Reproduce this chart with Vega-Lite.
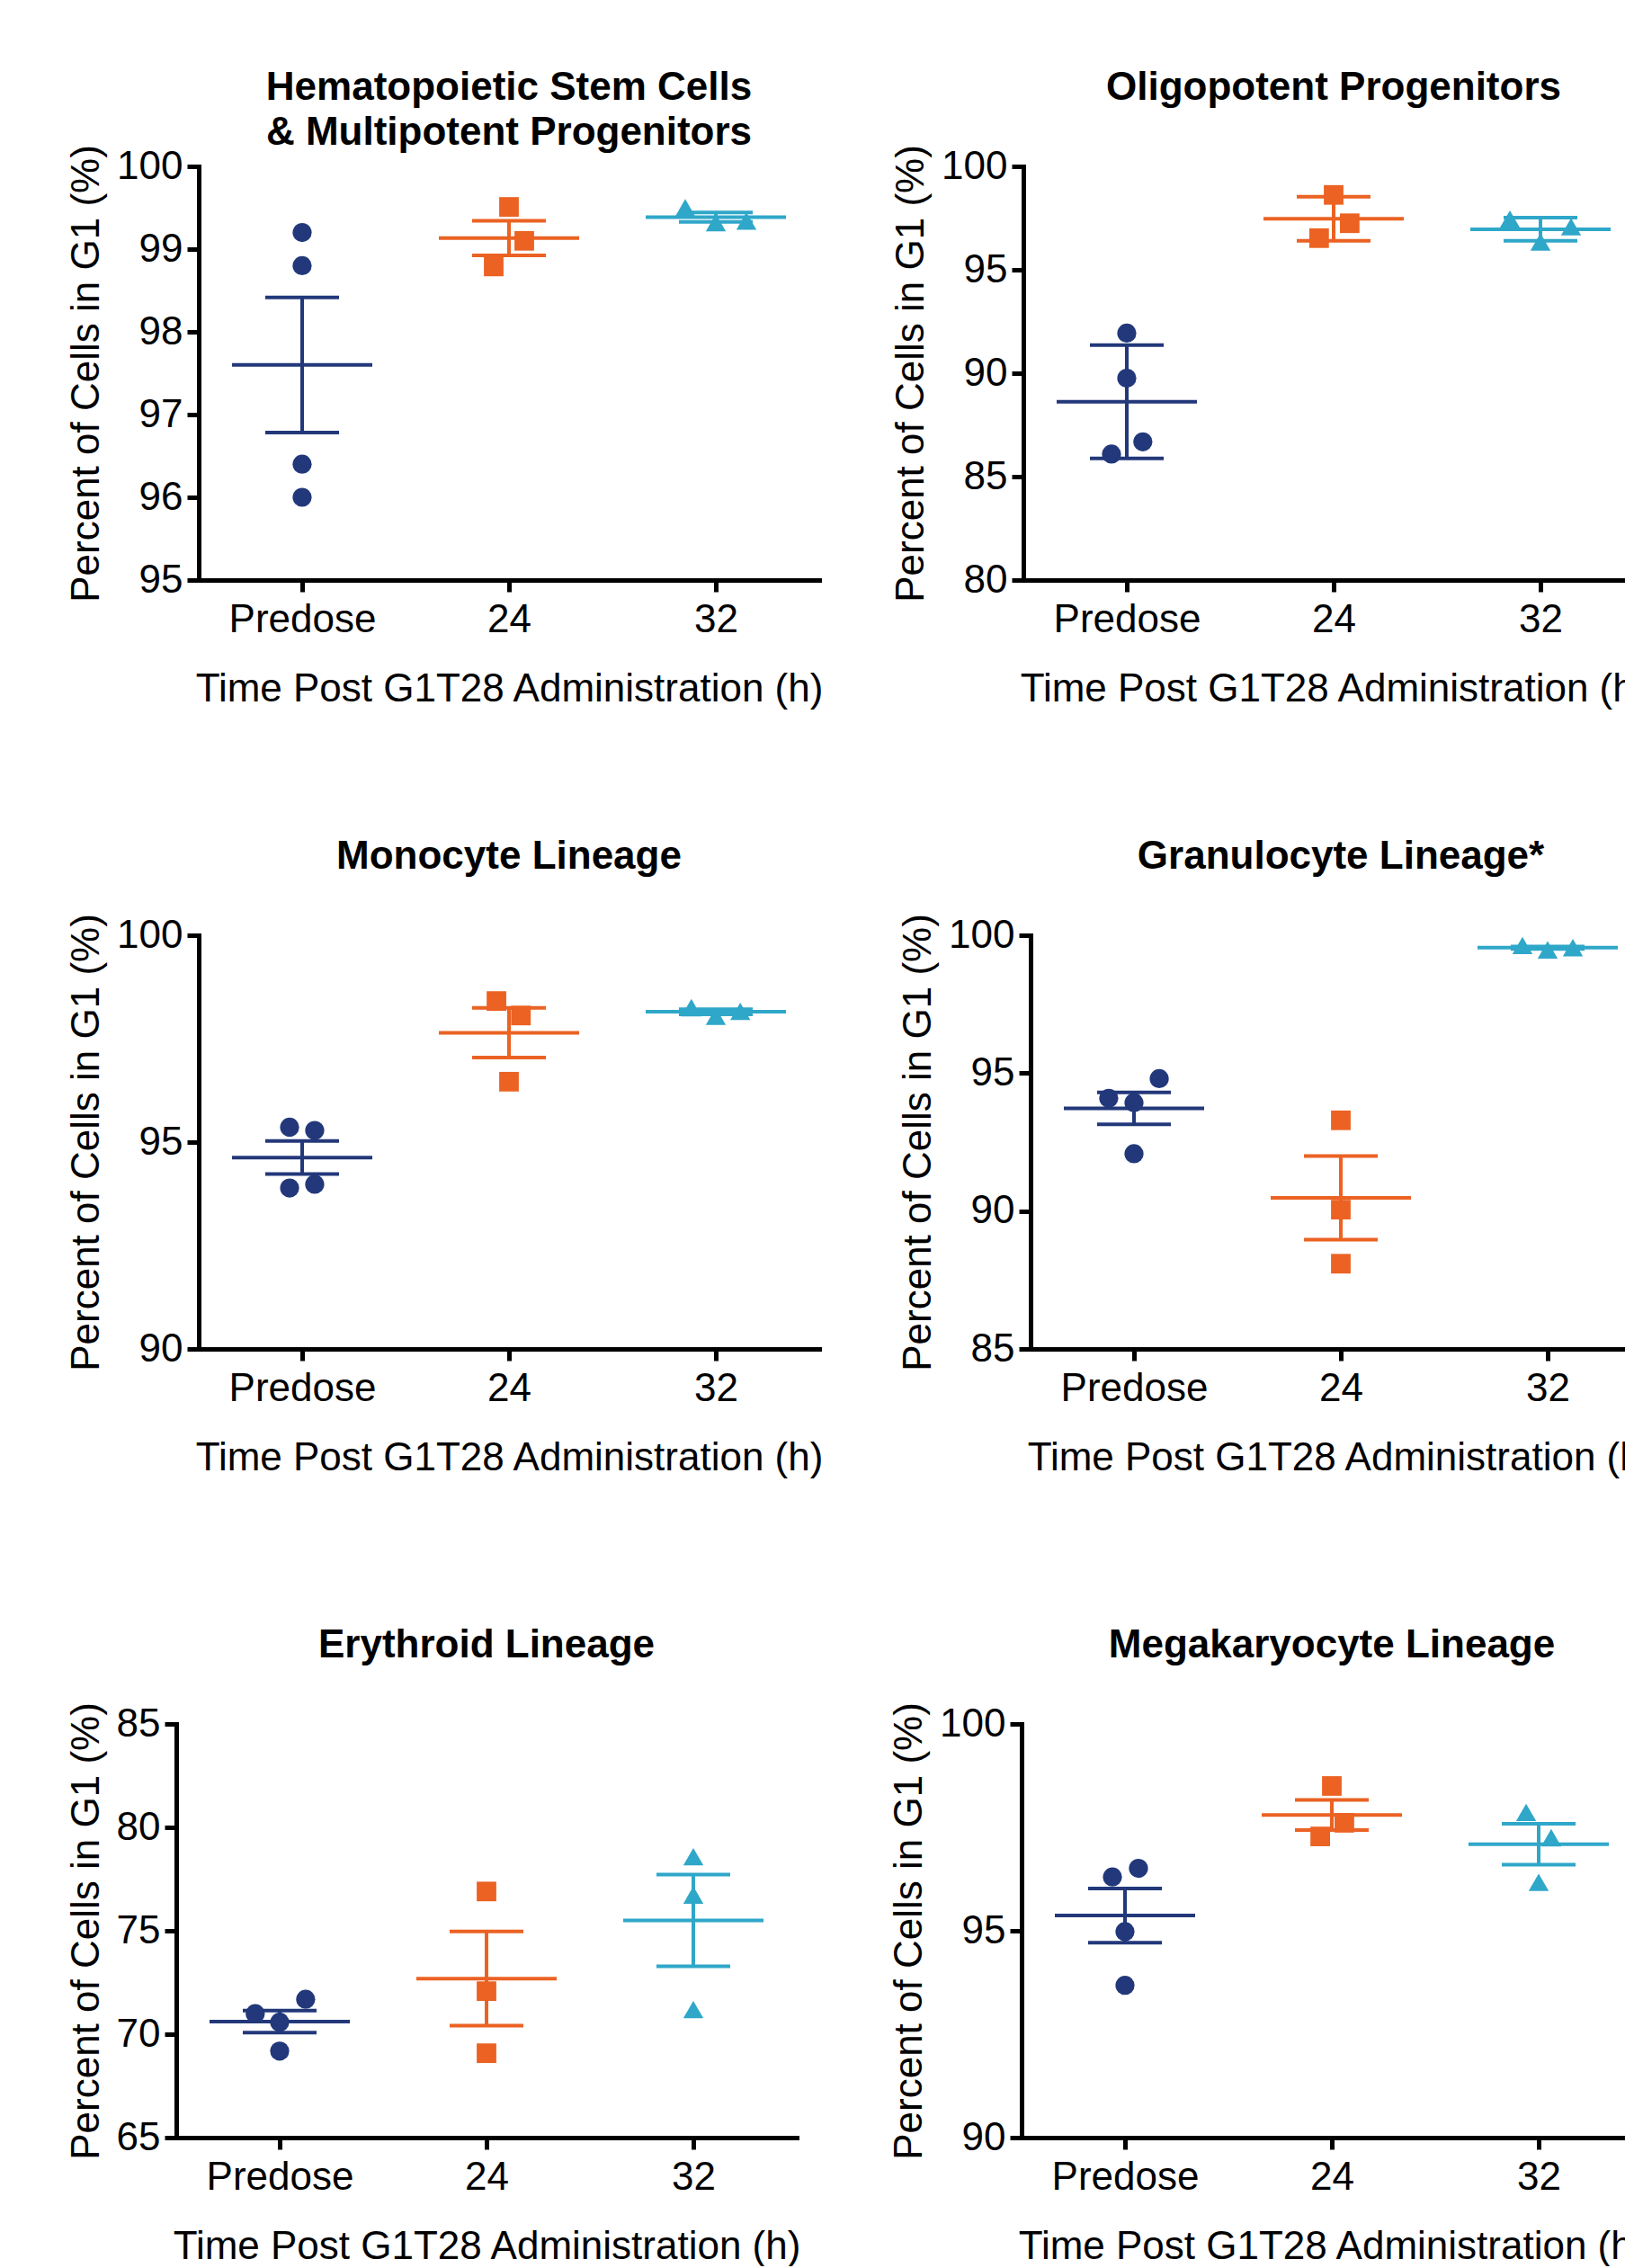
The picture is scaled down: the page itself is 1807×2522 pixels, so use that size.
{
  "$schema": "https://vega.github.io/schema/vega-lite/v6.json",
  "padding": {"left": 73, "top": 75, "right": 0, "bottom": 0},
  "background": "white",
  "datasets": {
    "hsc": [
      {"time": "Predose", "v": 99.2, "jitter": 0}, {"time": "Predose", "v": 98.8, "jitter": 0}, {"time": "Predose", "v": 96.4, "jitter": 0}, {"time": "Predose", "v": 96.0, "jitter": 0},
      {"time": "24", "v": 99.51, "jitter": 0}, {"time": "24", "v": 99.10, "jitter": 1}, {"time": "24", "v": 98.79, "jitter": -1},
      {"time": "32", "v": 99.5, "jitter": -2}, {"time": "32", "v": 99.32, "jitter": 0}, {"time": "32", "v": 99.34, "jitter": 2}
    ],
    "olig": [
      {"time": "Predose", "v": 91.94, "jitter": 0}, {"time": "Predose", "v": 89.76, "jitter": 0}, {"time": "Predose", "v": 86.68, "jitter": 1.05}, {"time": "Predose", "v": 86.09, "jitter": -1},
      {"time": "24", "v": 98.62, "jitter": 0}, {"time": "24", "v": 97.25, "jitter": 1.05}, {"time": "24", "v": 96.53, "jitter": -0.95},
      {"time": "32", "v": 97.45, "jitter": -2}, {"time": "32", "v": 96.35, "jitter": 0}, {"time": "32", "v": 97.08, "jitter": 2}
    ],
    "mono": [
      {"time": "Predose", "v": 95.36, "jitter": -0.82}, {"time": "Predose", "v": 95.28, "jitter": 0.82}, {"time": "Predose", "v": 93.89, "jitter": -0.82}, {"time": "Predose", "v": 93.98, "jitter": 0.82},
      {"time": "24", "v": 98.41, "jitter": -0.82}, {"time": "24", "v": 98.06, "jitter": 0.78}, {"time": "24", "v": 96.46, "jitter": 0},
      {"time": "32", "v": 98.25, "jitter": -1.6}, {"time": "32", "v": 98.04, "jitter": 0}, {"time": "32", "v": 98.16, "jitter": 1.6}
    ],
    "gran": [
      {"time": "Predose", "v": 94.80, "jitter": 1.65}, {"time": "Predose", "v": 94.09, "jitter": -1.65}, {"time": "Predose", "v": 93.93, "jitter": 0}, {"time": "Predose", "v": 92.08, "jitter": 0},
      {"time": "24", "v": 93.29, "jitter": 0}, {"time": "24", "v": 90.05, "jitter": 0}, {"time": "24", "v": 88.09, "jitter": 0},
      {"time": "32", "v": 99.63, "jitter": -1.65}, {"time": "32", "v": 99.47, "jitter": 0}, {"time": "32", "v": 99.55, "jitter": 1.65}
    ],
    "ery": [
      {"time": "Predose", "v": 71.69, "jitter": 1.7}, {"time": "Predose", "v": 70.99, "jitter": -1.6}, {"time": "Predose", "v": 70.58, "jitter": 0}, {"time": "Predose", "v": 69.18, "jitter": 0},
      {"time": "24", "v": 76.90, "jitter": 0}, {"time": "24", "v": 72.08, "jitter": 0}, {"time": "24", "v": 69.08, "jitter": 0},
      {"time": "32", "v": 78.58, "jitter": 0}, {"time": "32", "v": 76.73, "jitter": 0}, {"time": "32", "v": 71.19, "jitter": 0}
    ],
    "mega": [
      {"time": "Predose", "v": 96.51, "jitter": 0.88}, {"time": "Predose", "v": 96.30, "jitter": -0.82}, {"time": "Predose", "v": 94.98, "jitter": 0}, {"time": "Predose", "v": 93.68, "jitter": 0},
      {"time": "24", "v": 98.50, "jitter": 0}, {"time": "24", "v": 97.61, "jitter": 0.82}, {"time": "24", "v": 97.28, "jitter": -0.76},
      {"time": "32", "v": 97.86, "jitter": -0.82}, {"time": "32", "v": 97.25, "jitter": 0.82}, {"time": "32", "v": 96.17, "jitter": 0}
    ],
    "none": []
  },
  "vconcat": [
    {
      "spacing": 0,
      "hconcat": [
        {"width": 1, "height": 1, "data": {"name": "none"}, "mark": {"type": "point"}, "encoding": {}},
        {
          "spacing": 74,
          "hconcat": [
            {
              "width": 690, "height": 460,
              "data": {"name": "hsc"},
              "title": {"text": ["Hematopoietic Stem Cells", "& Multipotent Progenitors"], "dy": 50},
              "encoding": {
                "x": {"field": "time", "type": "ordinal", "scale": {"type": "point", "domain": ["Predose", "24", "32"], "padding": 0.5}, "title": "Time Post G1T28 Administration (h)"},
                "color": {"field": "time", "type": "nominal", "scale": {"domain": ["Predose", "24", "32"], "range": ["#22387A", "#EB6223", "#2FA7C9"]}, "legend": null}
              },
              "layer": [
                {"mark": {"type": "errorbar", "extent": "stderr", "thickness": 4, "ticks": {"size": 82, "thickness": 4, "opacity": 1}},
                 "encoding": {"y": {"field": "v", "type": "quantitative", "title": "Percent of Cells in G1 (%)", "scale": {"domain": [95, 100], "nice": false, "zero": false}, "axis": {"values": [95, 96, 97, 98, 99, 100], "format": "d"}}}},
                {"mark": {"type": "tick", "size": 156, "thickness": 4, "opacity": 1},
                 "encoding": {"y": {"aggregate": "mean", "field": "v", "type": "quantitative", "title": "Percent of Cells in G1 (%)"}}},
                {"mark": {"type": "point", "filled": true, "opacity": 1},
                 "encoding": {
                   "y": {"field": "v", "type": "quantitative", "title": "Percent of Cells in G1 (%)"},
                   "shape": {"field": "time", "type": "nominal", "scale": {"domain": ["Predose", "24", "32"], "range": ["circle", "square", "triangle-up"]}, "legend": null},
                   "size": {"field": "time", "type": "ordinal", "scale": {"domain": ["Predose", "24", "32"], "range": [450, 500, 530]}, "legend": null},
                   "xOffset": {"field": "jitter", "type": "quantitative", "scale": {"domain": [-2, 2], "range": [-34, 34]}}
                 }}
              ]
            },
            {
              "width": 690, "height": 460,
              "data": {"name": "olig"},
              "title": {"text": "Oligopotent Progenitors"},
              "encoding": {
                "x": {"field": "time", "type": "ordinal", "scale": {"type": "point", "domain": ["Predose", "24", "32"], "padding": 0.5}, "title": "Time Post G1T28 Administration (h)"},
                "color": {"field": "time", "type": "nominal", "scale": {"domain": ["Predose", "24", "32"], "range": ["#22387A", "#EB6223", "#2FA7C9"]}, "legend": null}
              },
              "layer": [
                {"mark": {"type": "errorbar", "extent": "stdev", "thickness": 4, "ticks": {"size": 82, "thickness": 4, "opacity": 1}},
                 "encoding": {"y": {"field": "v", "type": "quantitative", "title": "Percent of Cells in G1 (%)", "scale": {"domain": [80, 100], "nice": false, "zero": false}, "axis": {"values": [80, 85, 90, 95, 100], "format": "d"}}}},
                {"mark": {"type": "tick", "size": 156, "thickness": 4, "opacity": 1},
                 "encoding": {"y": {"aggregate": "mean", "field": "v", "type": "quantitative", "title": "Percent of Cells in G1 (%)"}}},
                {"mark": {"type": "point", "filled": true, "opacity": 1},
                 "encoding": {
                   "y": {"field": "v", "type": "quantitative", "title": "Percent of Cells in G1 (%)"},
                   "shape": {"field": "time", "type": "nominal", "scale": {"domain": ["Predose", "24", "32"], "range": ["circle", "square", "triangle-up"]}, "legend": null},
                   "size": {"field": "time", "type": "ordinal", "scale": {"domain": ["Predose", "24", "32"], "range": [450, 500, 530]}, "legend": null},
                   "xOffset": {"field": "jitter", "type": "quantitative", "scale": {"domain": [-2, 2], "range": [-34, 34]}}
                 }}
              ]
            }
          ]
        }
      ]
    },
    {
      "spacing": 164,
      "vconcat": [
        {
          "spacing": 0,
          "hconcat": [
            {"width": 1, "height": 1, "data": {"name": "none"}, "mark": {"type": "point"}, "encoding": {}},
            {
              "spacing": 82,
              "hconcat": [
                {
                  "width": 690, "height": 460,
                  "data": {"name": "mono"},
                  "title": {"text": "Monocyte Lineage"},
                  "encoding": {
                    "x": {"field": "time", "type": "ordinal", "scale": {"type": "point", "domain": ["Predose", "24", "32"], "padding": 0.5}, "title": "Time Post G1T28 Administration (h)"},
                    "color": {"field": "time", "type": "nominal", "scale": {"domain": ["Predose", "24", "32"], "range": ["#22387A", "#EB6223", "#2FA7C9"]}, "legend": null}
                  },
                  "layer": [
                    {"mark": {"type": "errorbar", "extent": "stderr", "thickness": 4, "ticks": {"size": 82, "thickness": 4, "opacity": 1}},
                     "encoding": {"y": {"field": "v", "type": "quantitative", "title": "Percent of Cells in G1 (%)", "scale": {"domain": [90, 100], "nice": false, "zero": false}, "axis": {"values": [90, 95, 100], "format": "d"}}}},
                    {"mark": {"type": "tick", "size": 156, "thickness": 4, "opacity": 1},
                     "encoding": {"y": {"aggregate": "mean", "field": "v", "type": "quantitative", "title": "Percent of Cells in G1 (%)"}}},
                    {"mark": {"type": "point", "filled": true, "opacity": 1},
                     "encoding": {
                       "y": {"field": "v", "type": "quantitative", "title": "Percent of Cells in G1 (%)"},
                       "shape": {"field": "time", "type": "nominal", "scale": {"domain": ["Predose", "24", "32"], "range": ["circle", "square", "triangle-up"]}, "legend": null},
                       "size": {"field": "time", "type": "ordinal", "scale": {"domain": ["Predose", "24", "32"], "range": [450, 500, 530]}, "legend": null},
                       "xOffset": {"field": "jitter", "type": "quantitative", "scale": {"domain": [-2, 2], "range": [-34, 34]}}
                     }}
                  ]
                },
                {
                  "width": 690, "height": 460,
                  "data": {"name": "gran"},
                  "title": {"text": "Granulocyte Lineage*"},
                  "encoding": {
                    "x": {"field": "time", "type": "ordinal", "scale": {"type": "point", "domain": ["Predose", "24", "32"], "padding": 0.5}, "title": "Time Post G1T28 Administration (h)"},
                    "color": {"field": "time", "type": "nominal", "scale": {"domain": ["Predose", "24", "32"], "range": ["#22387A", "#EB6223", "#2FA7C9"]}, "legend": null}
                  },
                  "layer": [
                    {"mark": {"type": "errorbar", "extent": "stderr", "thickness": 4, "ticks": {"size": 82, "thickness": 4, "opacity": 1}},
                     "encoding": {"y": {"field": "v", "type": "quantitative", "title": "Percent of Cells in G1 (%)", "scale": {"domain": [85, 100], "nice": false, "zero": false}, "axis": {"values": [85, 90, 95, 100], "format": "d"}}}},
                    {"mark": {"type": "tick", "size": 156, "thickness": 4, "opacity": 1},
                     "encoding": {"y": {"aggregate": "mean", "field": "v", "type": "quantitative", "title": "Percent of Cells in G1 (%)"}}},
                    {"mark": {"type": "point", "filled": true, "opacity": 1},
                     "encoding": {
                       "y": {"field": "v", "type": "quantitative", "title": "Percent of Cells in G1 (%)"},
                       "shape": {"field": "time", "type": "nominal", "scale": {"domain": ["Predose", "24", "32"], "range": ["circle", "square", "triangle-up"]}, "legend": null},
                       "size": {"field": "time", "type": "ordinal", "scale": {"domain": ["Predose", "24", "32"], "range": [450, 500, 530]}, "legend": null},
                       "xOffset": {"field": "jitter", "type": "quantitative", "scale": {"domain": [-2, 2], "range": [-34, 34]}}
                     }}
                  ]
                }
              ]
            }
          ]
        },
        {
          "spacing": 0,
          "hconcat": [
            {"width": 1, "height": 1, "data": {"name": "none"}, "mark": {"type": "point"}, "encoding": {}},
            {
              "spacing": 97,
              "hconcat": [
                {
                  "width": 690, "height": 460,
                  "data": {"name": "ery"},
                  "title": {"text": "Erythroid Lineage"},
                  "encoding": {
                    "x": {"field": "time", "type": "ordinal", "scale": {"type": "point", "domain": ["Predose", "24", "32"], "padding": 0.5}, "title": "Time Post G1T28 Administration (h)"},
                    "color": {"field": "time", "type": "nominal", "scale": {"domain": ["Predose", "24", "32"], "range": ["#22387A", "#EB6223", "#2FA7C9"]}, "legend": null}
                  },
                  "layer": [
                    {"mark": {"type": "errorbar", "extent": "stderr", "thickness": 4, "ticks": {"size": 82, "thickness": 4, "opacity": 1}},
                     "encoding": {"y": {"field": "v", "type": "quantitative", "title": "Percent of Cells in G1 (%)", "scale": {"domain": [65, 85], "nice": false, "zero": false}, "axis": {"values": [65, 70, 75, 80, 85], "format": "d"}}}},
                    {"mark": {"type": "tick", "size": 156, "thickness": 4, "opacity": 1},
                     "encoding": {"y": {"aggregate": "mean", "field": "v", "type": "quantitative", "title": "Percent of Cells in G1 (%)"}}},
                    {"mark": {"type": "point", "filled": true, "opacity": 1},
                     "encoding": {
                       "y": {"field": "v", "type": "quantitative", "title": "Percent of Cells in G1 (%)"},
                       "shape": {"field": "time", "type": "nominal", "scale": {"domain": ["Predose", "24", "32"], "range": ["circle", "square", "triangle-up"]}, "legend": null},
                       "size": {"field": "time", "type": "ordinal", "scale": {"domain": ["Predose", "24", "32"], "range": [450, 500, 530]}, "legend": null},
                       "xOffset": {"field": "jitter", "type": "quantitative", "scale": {"domain": [-2, 2], "range": [-34, 34]}}
                     }}
                  ]
                },
                {
                  "width": 690, "height": 460,
                  "data": {"name": "mega"},
                  "title": {"text": "Megakaryocyte Lineage"},
                  "encoding": {
                    "x": {"field": "time", "type": "ordinal", "scale": {"type": "point", "domain": ["Predose", "24", "32"], "padding": 0.5}, "title": "Time Post G1T28 Administration (h)"},
                    "color": {"field": "time", "type": "nominal", "scale": {"domain": ["Predose", "24", "32"], "range": ["#22387A", "#EB6223", "#2FA7C9"]}, "legend": null}
                  },
                  "layer": [
                    {"mark": {"type": "errorbar", "extent": "stderr", "thickness": 4, "ticks": {"size": 82, "thickness": 4, "opacity": 1}},
                     "encoding": {"y": {"field": "v", "type": "quantitative", "title": "Percent of Cells in G1 (%)", "scale": {"domain": [90, 100], "nice": false, "zero": false}, "axis": {"values": [90, 95, 100], "format": "d"}}}},
                    {"mark": {"type": "tick", "size": 156, "thickness": 4, "opacity": 1},
                     "encoding": {"y": {"aggregate": "mean", "field": "v", "type": "quantitative", "title": "Percent of Cells in G1 (%)"}}},
                    {"mark": {"type": "point", "filled": true, "opacity": 1},
                     "encoding": {
                       "y": {"field": "v", "type": "quantitative", "title": "Percent of Cells in G1 (%)"},
                       "shape": {"field": "time", "type": "nominal", "scale": {"domain": ["Predose", "24", "32"], "range": ["circle", "square", "triangle-up"]}, "legend": null},
                       "size": {"field": "time", "type": "ordinal", "scale": {"domain": ["Predose", "24", "32"], "range": [450, 500, 530]}, "legend": null},
                       "xOffset": {"field": "jitter", "type": "quantitative", "scale": {"domain": [-2, 2], "range": [-34, 34]}}
                     }}
                  ]
                }
              ]
            }
          ]
        }
      ]
    }
  ],
  "spacing": 142,
  "resolve": {"scale": {"y": "independent", "x": "independent"}},
  "config": {
    "view": {"stroke": null},
    "font": "Liberation Sans",
    "axis": {
      "domainColor": "black", "domainWidth": 5, "domainCap": "square",
      "tickColor": "black", "tickWidth": 5, "tickSize": 13,
      "labelFont": "Liberation Sans", "labelFontSize": 44, "labelColor": "black",
      "titleFont": "Liberation Sans", "titleFontSize": 44, "titleFontWeight": "normal", "titleColor": "black",
      "grid": false, "labelOverlap": false
    },
    "axisX": {"labelAngle": 0, "labelPadding": 9, "titlePadding": 33},
    "axisY": {"labelPadding": 5, "titlePadding": 11},
    "title": {"font": "Liberation Sans", "fontSize": 44, "fontWeight": "bold", "color": "black", "anchor": "middle", "frame": "group", "offset": 41, "lineHeight": 50}
  }
}
